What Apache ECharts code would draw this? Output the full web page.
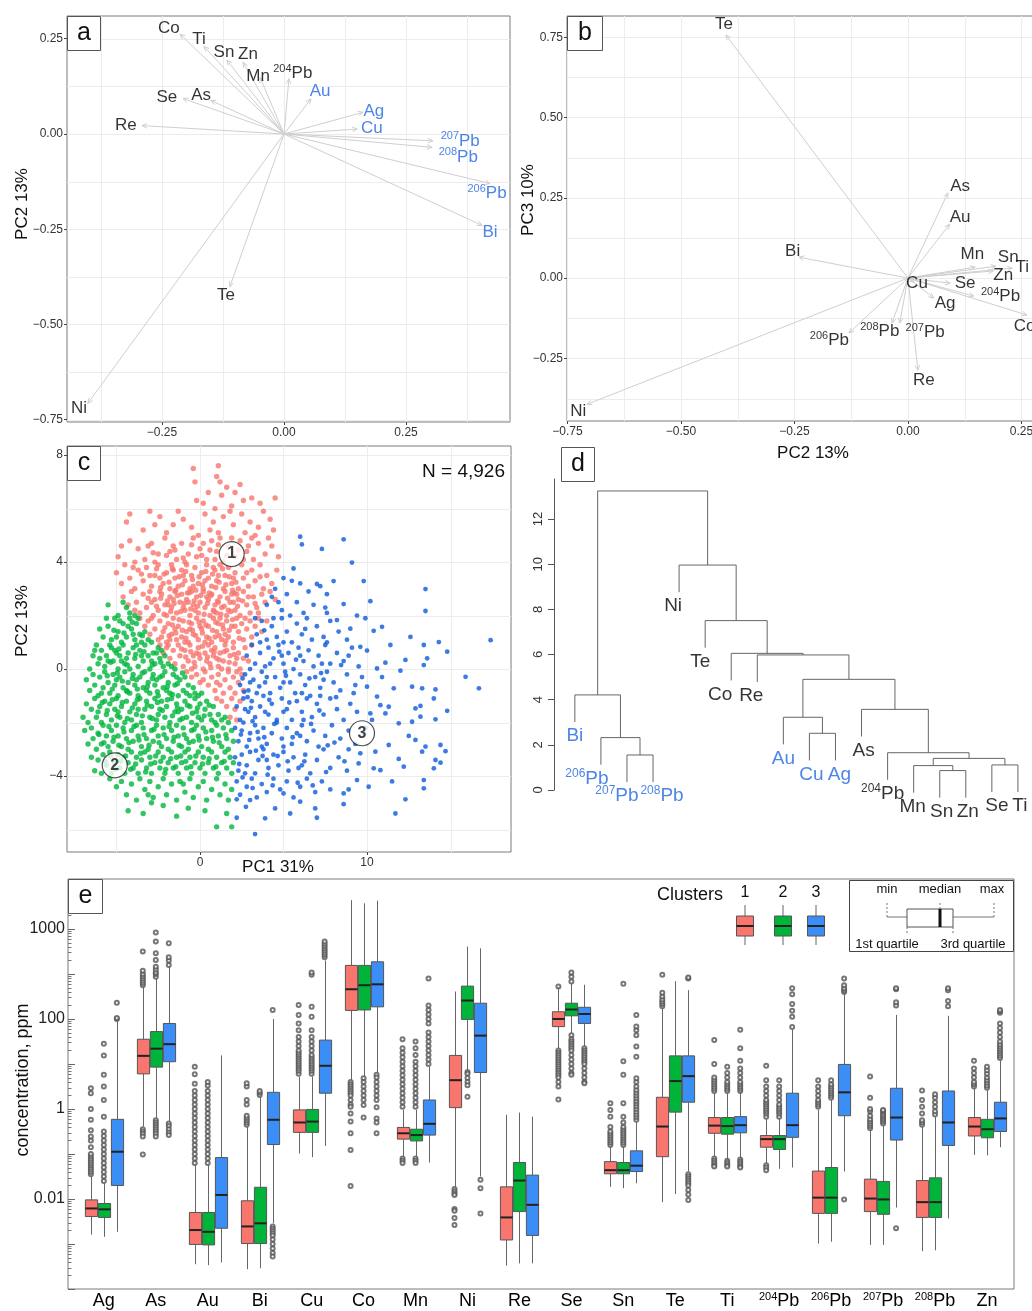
<!DOCTYPE html>
<html><head><meta charset="utf-8">
<script src="https://cdn.jsdelivr.net/npm/echarts@6/dist/echarts.min.js"></script>
<style>html,body{margin:0;padding:0;background:#fff}#c{width:1032px;height:1311px}</style>
</head><body><div id="c"></div>
<script>
const FONT = '"Liberation Sans", Arial, Helvetica, sans-serif';
const BLUE = '#1f67e0';
const C1 = '#f8766d', C2 = '#00b53c', C3 = '#0b5ad9';
const BOX1 = '#f8766d', BOX2 = '#00b43a', BOX3 = '#3a8ef6';

// ---------- Panels a, b: PCA loadings ----------
const vars = ['Ag','As','Au','Bi','Cu','Co','Mn','Ni','Re','Se','Sn','Te','Ti','204Pb','206Pb','207Pb','208Pb','Zn'];
const blueVars = ['Ag','Au','Bi','Cu','206Pb','207Pb','208Pb'];
const pc1 = [0.162,-0.150,0.055,0.406,0.150,-0.213,-0.049,-0.402,-0.291,-0.207,-0.117,-0.111,-0.164,0.010,0.422,0.305,0.303,-0.084];
const pc2 = [0.057,0.088,0.092,-0.240,0.013,0.262,0.148,-0.707,0.022,0.093,0.194,-0.401,0.230,0.145,-0.130,-0.018,-0.035,0.188];
const pc3 = [-0.062,0.265,0.168,0.065,-0.012,-0.115,0.034,-0.393,-0.287,-0.016,0.037,0.757,0.031,-0.056,-0.171,-0.140,-0.140,0.022];
const labA = [[0.184,0.060],[-0.170,0.102],[0.074,0.113],[0.422,-0.257],[0.180,0.016],[-0.236,0.278],[-0.053,0.152],[-0.420,-0.719],[-0.324,0.024],[-0.240,0.097],[-0.123,0.215],[-0.119,-0.423],[-0.174,0.249],[0.018,0.160],[0.416,-0.157],[0.361,-0.018],[0.357,-0.060],[-0.074,0.210]];
const labB = [[0.082,-0.078],[0.115,0.287],[0.115,0.190],[-0.254,0.084],[0.020,-0.016],[0.257,-0.150],[0.142,0.075],[-0.726,-0.414],[0.035,-0.318],[0.126,-0.016],[0.221,0.065],[-0.405,0.791],[0.252,0.034],[0.204,-0.056],[-0.173,-0.193],[0.038,-0.168],[-0.062,-0.165],[0.210,0.009]];
const tickAx = [-0.25,0,0.25], tickAy = [0.25,0,-0.25,-0.5,-0.75];
const gridAx = [-0.375,-0.25,-0.125,0,0.125,0.25,0.375], gridAy = [0.25,0.125,0,-0.125,-0.25,-0.375,-0.5,-0.625,-0.75];
const tickBx = [-0.75,-0.5,-0.25,0,0.25], tickBy = [0.75,0.5,0.25,0,-0.25];
const gridBx = [-0.75,-0.625,-0.5,-0.375,-0.25,-0.125,0,0.125,0.25], gridBy = [0.75,0.625,0.5,0.375,0.25,0.125,0,-0.125,-0.25,-0.375];

// ---------- Panel c: PC scores ----------
const tickCx = [0,10], tickCy = [8,4,0,-4];
const gridCx = [-5,0,5,10,15], gridCy = [8,6,4,2,0,-2,-4,-6];
const scores1 = [
-0.4,7.5, 1.1,7.6, 1.0,7.2, -0.3,7.0, 1.2,7.0,
0.5,6.6, 1.6,6.8, 2.1,6.6, 4.5,6.4, 3.1,6.4, 0.2,6.2, 2.6,6.3, 1.3,6.5, -0.2,6.3, 3.6,6.2, 1.9,6.1, 0.9,6.0, 2.4,6.9,
-4.2,5.8, -4.4,5.5, -2.4,5.7, -2.7,5.4, -1.6,5.4, -1.0,5.6, -0.5,5.3, 0.3,5.8, 0.8,5.5, 1.4,5.7, 2.0,5.4, 2.5,5.8, 3.0,5.5, 3.5,5.3, 4.2,5.6, -3.4,5.2, -2.0,5.1, -0.1,5.0, 1.1,5.1, 1.8,5.9, 2.7,5.1, 3.8,5.9, -1.3,5.9, 0.6,5.2, -3.0,5.9, 4.4,5.2, 3.3,5.0,
-4.7,4.6, -4.9,4.2, -4.2,4.8, -3.7,4.5, -3.3,4.1, -2.9,4.7, -2.5,4.3, -2.1,4.9, -1.8,4.4, -1.4,4.1, -1.1,4.7, -0.7,4.3, -0.4,4.9, 0.0,4.5, 0.4,4.1, 0.7,4.8, 1.0,4.4, 1.4,4.0, 1.7,4.6, 2.1,4.2, 2.4,4.8, 2.8,4.4, 3.2,4.1, 3.5,4.7, 3.9,4.3, 4.3,4.6, 4.7,4.2, -3.9,4.0, -2.7,4.0, -0.9,4.0, 0.9,4.1, 2.6,4.1, -1.6,4.6, 0.2,4.7, 1.9,4.9, 3.1,4.9, -0.2,4.2, 1.2,4.9, -3.1,4.6, 4.1,4.9, 2.9,4.6,
-5.0,3.6, -4.7,3.2, -4.5,3.9, -4.2,3.4, -3.9,3.0, -3.7,3.7, -3.4,3.3, -3.2,3.8, -2.9,3.1, -2.7,3.5, -2.5,3.9, -2.2,3.2, -2.0,3.6, -1.8,3.0, -1.7,3.9, -1.5,3.4, -1.3,3.1, -1.1,3.7, -0.9,3.3, -0.8,3.9, -0.6,3.0, -0.5,3.5, -0.3,3.8, -0.1,3.2, 0.1,3.6, 0.2,3.0, 0.4,3.9, 0.5,3.4, 0.7,3.1, 0.9,3.7, 1.0,3.3, 1.2,3.9, 1.4,3.0, 1.5,3.5, 1.7,3.8, 1.9,3.2, 2.1,3.6, 2.3,3.0, 2.5,3.9, 2.6,3.4, 2.9,3.1, 3.1,3.7, 3.3,3.3, 3.6,3.9, 3.8,3.0, 4.0,3.5, 4.3,3.2, 4.6,3.7, -4.0,3.8, -2.4,3.4, -1.0,3.5, 0.3,3.3, 1.1,3.5, 2.0,3.4, -0.4,3.1, 0.8,3.8, -1.6,3.7, 2.8,3.6, -3.0,3.5,
-4.6,2.7, -4.3,2.4, -4.1,2.9, -3.8,2.5, -3.6,2.1, -3.4,2.8, -3.2,2.3, -3.0,2.9, -2.8,2.0, -2.7,2.6, -2.5,2.2, -2.3,2.8, -2.1,2.4, -2.0,2.0, -1.8,2.7, -1.7,2.3, -1.5,2.9, -1.4,2.1, -1.2,2.5, -1.1,2.8, -0.9,2.2, -0.8,2.6, -0.6,2.0, -0.5,2.9, -0.4,2.4, -0.2,2.7, -0.1,2.1, 0.0,2.5, 0.2,2.9, 0.3,2.3, 0.5,2.6, 0.6,2.0, 0.7,2.8, 0.9,2.4, 1.0,2.1, 1.2,2.7, 1.3,2.3, 1.5,2.9, 1.6,2.0, 1.8,2.5, 1.9,2.8, 2.1,2.2, 2.3,2.6, 2.4,2.0, 2.6,2.9, 2.8,2.4, 3.0,2.1, 3.2,2.7, 3.4,2.3, 3.7,2.8, 3.9,2.5, 4.2,2.9, 4.5,2.6, -3.9,2.2, -2.9,2.5, -1.9,2.4, -1.0,2.3, -0.3,2.2, 0.4,2.7, 1.1,2.5, 1.7,2.2, 2.2,2.8, 2.9,2.7, -0.7,2.5, 0.8,2.2, -1.6,2.6, 3.5,2.1, -2.4,2.9, 2.0,2.5,
-3.6,1.9, -3.3,1.6, -3.0,1.3, -2.9,1.9, -2.7,1.5, -2.5,1.1, -2.4,1.8, -2.2,1.4, -2.0,1.0, -1.9,1.7, -1.7,1.3, -1.6,1.9, -1.4,1.1, -1.3,1.6, -1.1,1.2, -1.0,1.8, -0.8,1.4, -0.7,1.0, -0.5,1.7, -0.4,1.3, -0.2,1.9, -0.1,1.1, 0.1,1.5, 0.2,1.8, 0.4,1.2, 0.5,1.6, 0.7,1.0, 0.8,1.9, 1.0,1.4, 1.1,1.7, 1.3,1.1, 1.4,1.5, 1.6,1.8, 1.7,1.2, 1.9,1.6, 2.0,1.0, 2.2,1.9, 2.3,1.4, 2.5,1.7, 2.6,1.1, 2.8,1.5, 3.0,1.8, 3.1,1.2, 3.3,1.6, 3.5,1.9, 3.7,1.4, 4.0,1.8, -3.1,1.8, -2.3,1.2, -1.5,1.5, -0.6,1.5, 0.3,1.0, 0.9,1.2, 1.5,1.3, 2.1,1.6, 2.7,1.9, -0.9,1.0, 0.0,1.6, 1.2,1.9, -1.8,1.1,
-2.4,0.9, -2.2,0.6, -2.0,0.8, -1.8,0.4, -1.6,0.7, -1.5,0.2, -1.3,0.9, -1.2,0.5, -1.0,0.1, -0.9,0.7, -0.7,0.3, -0.6,0.9, -0.4,0.5, -0.3,0.1, -0.1,0.8, 0.0,0.4, 0.2,0.0, 0.3,0.6, 0.5,0.9, 0.6,0.2, 0.8,0.5, 0.9,0.8, 1.1,0.1, 1.2,0.6, 1.4,0.3, 1.5,0.9, 1.7,0.0, 1.8,0.5, 2.0,0.8, 2.1,0.2, 2.3,0.6, 2.4,0.0, 2.6,0.4, 2.7,0.8, 2.9,0.3, 3.1,0.9, -1.9,0.9, -0.5,0.0, 0.4,0.3, 1.0,0.4, 1.6,0.7, 2.2,0.4, -0.2,0.6, 0.7,0.7, 1.3,0.0,
-0.8,-0.1, -0.5,-0.3, -0.2,-0.2, 0.0,-0.5, 0.3,-0.1, 0.5,-0.6, 0.7,-0.3, 0.9,-0.8, 1.1,-0.2, 1.2,-0.6, 1.4,-0.9, 1.5,-0.4, 1.7,-0.1, 1.8,-0.7, 2.0,-0.3, 2.1,-0.9, 2.3,-0.5, 2.5,-0.2, 2.6,-0.8, 1.0,-0.5, 0.2,-0.4, 2.2,-0.1,
1.0,-1.1, 1.3,-1.2, 1.6,-1.4, 1.9,-1.1, 2.1,-1.5, 2.4,-1.2, 1.8,-1.8, 2.2,-1.9,
-2.6,3.75, -2.35,3.05, -2.15,3.55, -1.85,3.25, -1.65,3.75, -1.45,2.95, -1.25,3.45, -1.05,3.15, -0.85,3.65, -0.65,2.85, -0.45,3.35, -0.25,2.95, -0.05,3.45, 0.15,3.15, 0.35,3.65, 0.55,2.85, 0.75,3.55, 0.95,3.05, 1.15,3.25, 1.35,3.75, 1.55,3.15, 1.75,3.45, 1.95,2.95, 2.15,3.25,
-2.6,2.35, -2.35,2.65, -2.15,2.05, -1.95,2.55, -1.75,2.15, -1.55,2.45, -1.35,2.75, -1.15,2.15, -0.95,2.45, -0.75,2.85, -0.55,2.25, -0.35,2.55, -0.15,2.35, 0.05,2.75, 0.25,2.05, 0.45,2.45, 0.65,2.75, 0.85,2.15, 1.05,2.55, 1.25,2.05, 1.45,2.35, 1.65,2.65, 1.85,2.15, 2.05,2.85, 2.25,2.35, 2.55,2.55,
-2.1,1.55, -1.85,1.25, -1.65,1.65, -1.45,1.35, -1.25,1.85, -1.05,1.45, -0.85,1.15, -0.65,1.75, -0.45,1.45, -0.25,1.25, -0.05,1.75, 0.15,1.35, 0.35,1.65, 0.55,1.15, 0.75,1.45, 0.95,1.75, 1.15,1.25, 1.35,1.65, 1.55,1.05, 1.75,1.45, 1.95,1.85, 2.35,1.15,
-1.1,0.75, -0.85,0.45, -0.55,0.65, -0.35,0.25, -0.05,0.55, 0.15,0.85, 0.45,0.45, 0.65,0.05, 0.85,0.65, 1.15,0.35, 1.45,0.65, 1.75,0.25, 2.05,0.55,
-2.0,4.25, -1.5,4.45, -1.0,4.15, -0.5,4.65, 0.1,4.25, 0.6,4.45, 1.1,4.65, 1.6,4.25, 2.3,4.45, -2.8,4.35, -3.5,3.55, -3.1,2.65, 3.3,2.45, 3.6,3.45
];
const scores2 = [
-5.5,2.4, -4.6,2.5, -4.2,2.1, -4.9,2.0, -4.4,2.3, -3.9,2.0,
-5.8,1.2, -5.5,1.6, -5.3,1.1, -5.1,1.9, -4.9,1.4, -4.7,1.0, -4.6,1.7, -4.4,1.2, -4.2,1.9, -4.1,1.5, -3.9,1.1, -3.8,1.7, -3.6,1.3, -3.5,1.0, -3.3,1.4, -3.1,1.1, -2.9,1.0, -5.6,1.9, -4.8,1.8, -4.3,1.6, -3.7,1.9, -5.0,1.2, -4.0,1.3, -6.0,1.5,
-6.6,0.0, -6.4,0.5, -6.2,0.9, -6.1,0.2, -5.9,0.7, -5.7,0.1, -5.6,0.5, -5.4,0.9, -5.2,0.3, -5.1,0.7, -4.9,0.0, -4.8,0.5, -4.6,0.9, -4.5,0.2, -4.3,0.6, -4.2,0.0, -4.0,0.8, -3.9,0.4, -3.7,0.1, -3.6,0.7, -3.4,0.3, -3.3,0.9, -3.1,0.5, -3.0,0.0, -2.8,0.6, -2.7,0.2, -2.5,0.8, -2.4,0.4, -2.2,0.1, -2.1,0.5, -1.9,0.2, -1.7,0.1, -1.5,0.0, -6.3,0.7, -5.5,0.3, -5.0,0.6, -4.4,0.4, -3.8,0.9, -3.5,0.5, -2.9,0.3, -2.6,0.6, -4.7,0.3, -5.3,0.8, -2.3,0.7, -6.0,0.4,
-6.8,-0.4, -6.6,-0.8, -6.4,-0.2, -6.3,-0.6, -6.1,-1.0, -6.0,-0.3, -5.8,-0.7, -5.7,-0.1, -5.5,-0.5, -5.4,-0.9, -5.2,-0.2, -5.1,-0.6, -4.9,-1.0, -4.8,-0.3, -4.6,-0.7, -4.5,-0.1, -4.3,-0.5, -4.2,-0.9, -4.0,-0.2, -3.9,-0.6, -3.7,-1.0, -3.6,-0.3, -3.4,-0.7, -3.3,-0.1, -3.1,-0.5, -3.0,-0.9, -2.8,-0.2, -2.7,-0.6, -2.5,-1.0, -2.4,-0.3, -2.2,-0.7, -2.1,-0.1, -1.9,-0.5, -1.8,-0.9, -1.6,-0.2, -1.5,-0.6, -1.3,-1.0, -1.2,-0.4, -1.0,-0.8, -0.9,-0.3, -0.7,-0.6, -0.6,-1.0, -0.4,-0.7, -0.3,-0.9, -0.1,-1.0, 0.1,-0.9, -5.9,-0.9, -5.0,-0.4, -4.4,-0.8, -3.8,-0.4, -3.2,-0.8, -2.6,-0.4, -2.0,-0.8, -1.4,-0.3, -0.8,-0.9,
-7.0,-1.8, -6.8,-1.3, -6.7,-2.0, -6.5,-1.5, -6.3,-1.1, -6.2,-1.8, -6.0,-1.4, -5.9,-2.0, -5.7,-1.2, -5.6,-1.7, -5.4,-1.3, -5.3,-1.9, -5.1,-1.5, -5.0,-1.1, -4.8,-1.8, -4.7,-1.4, -4.5,-2.0, -4.4,-1.2, -4.2,-1.6, -4.1,-1.9, -3.9,-1.3, -3.8,-1.7, -3.6,-1.1, -3.5,-2.0, -3.3,-1.5, -3.2,-1.2, -3.0,-1.8, -2.9,-1.4, -2.7,-1.1, -2.6,-1.9, -2.4,-1.5, -2.3,-1.2, -2.1,-1.8, -2.0,-1.4, -1.8,-2.0, -1.7,-1.1, -1.5,-1.6, -1.4,-1.3, -1.2,-1.9, -1.1,-1.5, -0.9,-1.2, -0.8,-1.8, -0.6,-1.4, -0.5,-2.0, -0.3,-1.1, -0.2,-1.6, 0.0,-1.3, 0.1,-1.9, 0.3,-1.5, 0.4,-1.2, 0.6,-1.7, 0.8,-1.4, 0.9,-2.0, 1.1,-1.7, 1.3,-1.9, 1.5,-1.8, 1.7,-2.0, -6.1,-1.6, -4.9,-1.6, -3.7,-1.5, -2.5,-1.7, -1.3,-1.6, -0.1,-1.8, 0.7,-1.9,
-6.9,-2.3, -6.7,-2.8, -6.5,-2.2, -6.4,-2.6, -6.2,-3.0, -6.1,-2.4, -5.9,-2.8, -5.8,-2.1, -5.6,-2.5, -5.5,-2.9, -5.3,-2.3, -5.2,-2.7, -5.0,-2.1, -4.9,-2.5, -4.7,-2.9, -4.6,-2.2, -4.4,-2.6, -4.3,-3.0, -4.1,-2.3, -4.0,-2.7, -3.8,-2.1, -3.7,-2.5, -3.5,-2.9, -3.4,-2.2, -3.2,-2.6, -3.1,-3.0, -2.9,-2.3, -2.8,-2.7, -2.6,-2.1, -2.5,-2.5, -2.3,-2.9, -2.2,-2.2, -2.0,-2.6, -1.9,-3.0, -1.7,-2.3, -1.6,-2.7, -1.4,-2.1, -1.3,-2.5, -1.1,-2.9, -1.0,-2.2, -0.8,-2.6, -0.7,-3.0, -0.5,-2.3, -0.4,-2.7, -0.2,-2.1, -0.1,-2.5, 0.1,-2.9, 0.2,-2.2, 0.4,-2.6, 0.5,-3.0, 0.7,-2.3, 0.8,-2.7, 1.0,-2.1, 1.1,-2.5, 1.3,-2.9, 1.4,-2.2, 1.6,-2.6, 1.7,-3.0, 1.9,-2.3, 2.0,-2.7,
-6.5,-3.3, -6.3,-3.8, -6.1,-3.4, -5.9,-3.9, -5.8,-3.2, -5.6,-3.6, -5.4,-3.1, -5.3,-3.9, -5.1,-3.5, -4.9,-3.2, -4.8,-3.7, -4.6,-3.3, -4.5,-3.9, -4.3,-3.5, -4.1,-3.1, -4.0,-3.7, -3.8,-3.3, -3.7,-3.9, -3.5,-3.4, -3.3,-3.1, -3.2,-3.7, -3.0,-3.3, -2.9,-3.9, -2.7,-3.5, -2.5,-3.1, -2.4,-3.7, -2.2,-3.3, -2.1,-3.9, -1.9,-3.5, -1.7,-3.1, -1.6,-3.7, -1.4,-3.3, -1.3,-3.9, -1.1,-3.5, -0.9,-3.1, -0.8,-3.7, -0.6,-3.3, -0.5,-3.9, -0.3,-3.5, -0.1,-3.1, 0.0,-3.7, 0.2,-3.3, 0.3,-3.9, 0.5,-3.5, 0.7,-3.1, 0.8,-3.7, 1.0,-3.3, 1.1,-3.9, 1.3,-3.5, 1.5,-3.1, 1.6,-3.7, 1.8,-3.3, 1.9,-3.9, 2.0,-3.5,
-5.4,-4.1, -5.0,-4.4, -4.7,-4.2, -4.4,-4.7, -4.1,-4.3, -3.8,-4.9, -3.6,-4.1, -3.3,-4.5, -3.0,-4.2, -2.8,-4.8, -2.5,-4.4, -2.2,-4.1, -2.0,-4.7, -1.7,-4.3, -1.4,-4.9, -1.2,-4.2, -0.9,-4.6, -0.6,-4.1, -0.4,-4.8, -0.1,-4.4, 0.2,-4.2, 0.4,-4.9, 0.7,-4.5, 1.0,-4.1, 1.2,-4.7, 1.5,-4.3, 1.7,-4.9, 1.9,-4.5, -3.1,-4.7, -1.0,-4.3,
-4.3,-5.3, -3.4,-5.4, -2.2,-5.1, -1.4,-5.5, -0.7,-5.2, 0.3,-5.3, 1.0,-5.9, 1.9,-5.9, 1.6,-5.4, -2.9,-5.0,
-5.55,-0.25, -5.25,-0.75, -4.95,-0.15, -4.65,-0.45, -4.35,-0.85, -4.05,-0.35, -3.75,-0.75, -3.45,-0.15, -3.15,-0.65, -2.85,-0.35, -2.55,-0.85, -2.25,-0.25, -1.95,-0.65, -1.65,-0.95, -1.35,-0.55, -1.05,-0.15,
-5.85,-1.25, -5.55,-1.55, -5.25,-1.15, -4.95,-1.75, -4.65,-1.25, -4.35,-1.85, -4.05,-1.45, -3.75,-1.15, -3.45,-1.75, -3.15,-1.35, -2.85,-1.85, -2.55,-1.25, -2.25,-1.55, -1.95,-1.15, -1.65,-1.75, -1.35,-1.45, -1.05,-1.85, -0.75,-1.35, -0.45,-1.65, -0.15,-1.45, 0.25,-1.75, 0.55,-1.35,
-6.05,-2.45, -5.75,-2.75, -5.45,-2.15, -5.15,-2.55, -4.85,-2.85, -4.55,-2.35, -4.25,-2.75, -3.95,-2.15, -3.65,-2.65, -3.35,-2.45, -3.05,-2.85, -2.75,-2.25, -2.45,-2.75, -2.15,-2.45, -1.85,-2.15, -1.55,-2.55, -1.25,-2.85, -0.95,-2.45, -0.65,-2.75, -0.35,-2.25, -0.05,-2.65, 0.35,-2.35, 0.75,-2.55, 1.15,-2.75, 1.55,-2.45,
-5.65,-3.45, -5.35,-3.25, -5.05,-3.75, -4.75,-3.45, -4.45,-3.25, -4.15,-3.75, -3.85,-3.55, -3.55,-3.15, -3.25,-3.85, -2.95,-3.55, -2.65,-3.25, -2.35,-3.45, -2.05,-3.75, -1.75,-3.35, -1.45,-3.65, -1.15,-3.25, -0.85,-3.45, -0.55,-3.65, -0.25,-3.25, 0.15,-3.55, 0.55,-3.35, 0.95,-3.65, 1.45,-3.45,
-5.35,0.25, -4.85,0.75, -4.35,0.15, -3.85,0.55, -3.35,0.65, -2.85,0.15, -2.35,0.25, -4.55,1.35, -4.05,1.75, -3.45,1.25, -5.15,1.45
];
const scores3 = [
4.0,2.4, 4.5,3.0, 4.9,2.2, 5.2,2.8, 5.5,3.3, 5.8,2.5, 6.2,2.1, 6.5,2.9, 6.8,2.4, 7.2,3.1, 4.3,2.7, 5.0,3.4, 6.0,3.2, 5.4,2.0, 7.5,2.3, 4.7,2.5,
3.4,1.3, 3.7,1.8, 4.0,1.1, 4.3,1.6, 4.6,1.2, 4.9,1.9, 5.2,1.4, 5.5,1.0, 5.8,1.7, 6.1,1.3, 6.4,1.9, 6.7,1.1, 7.0,1.6, 7.4,1.2, 7.8,1.8, 8.3,1.4, 8.8,1.1, 3.6,1.0, 5.0,1.0, 6.3,1.5, 7.6,1.0, 4.4,1.9, 3.3,1.9,
2.8,0.5, 3.1,0.9, 3.3,0.2, 3.6,0.6, 3.9,0.1, 4.1,0.8, 4.4,0.4, 4.7,0.9, 5.0,0.2, 5.3,0.6, 5.6,0.0, 5.9,0.8, 6.2,0.3, 6.5,0.7, 6.8,0.1, 7.1,0.5, 7.5,0.9, 7.8,0.2, 8.2,0.6, 8.6,0.3, 9.1,0.8, 9.5,0.1, 3.0,0.0, 4.9,0.5, 6.0,0.5, 7.3,0.2, 8.9,0.5, 4.2,0.2,
2.4,-0.6, 2.7,-0.2, 2.9,-0.8, 3.2,-0.4, 3.4,-0.9, 3.7,-0.1, 3.9,-0.5, 4.2,-0.9, 4.5,-0.3, 4.8,-0.7, 5.1,-0.1, 5.4,-0.5, 5.7,-0.9, 6.0,-0.2, 6.3,-0.6, 6.6,-1.0, 6.9,-0.3, 7.2,-0.7, 7.6,-0.1, 8.0,-0.5, 8.4,-0.8, 8.8,-0.2, 9.3,-0.6, 9.7,-0.3, 3.0,-0.5, 4.0,-0.3, 5.0,-0.5, 6.1,-0.9, 7.4,-0.4,
2.2,-1.4, 2.4,-1.9, 2.6,-1.1, 2.9,-1.6, 3.1,-1.2, 3.3,-1.8, 3.6,-1.4, 3.8,-1.0, 4.1,-1.7, 4.3,-1.3, 4.6,-1.9, 4.9,-1.1, 5.2,-1.5, 5.5,-1.9, 5.8,-1.2, 6.1,-1.6, 6.4,-1.1, 6.7,-1.8, 7.0,-1.3, 7.4,-1.7, 7.8,-1.1, 8.2,-1.5, 8.6,-1.9, 9.0,-1.3, 9.4,-1.6, 2.7,-1.5, 3.9,-1.6, 5.0,-1.6, 6.2,-1.9, 7.2,-1.0,
2.1,-2.2, 2.3,-2.7, 2.5,-2.3, 2.8,-2.9, 3.0,-2.4, 3.3,-2.1, 3.5,-2.6, 3.8,-2.2, 4.0,-2.8, 4.3,-2.4, 4.6,-2.0, 4.9,-2.6, 5.2,-2.2, 5.5,-2.8, 5.8,-2.4, 6.1,-2.1, 6.4,-2.7, 6.8,-2.3, 7.1,-2.9, 7.5,-2.5, 7.9,-2.1, 8.4,-2.6, 8.9,-2.3, 9.3,-2.8, 9.8,-2.4, 2.6,-2.0, 3.7,-2.9, 5.0,-2.9, 6.0,-2.5,
2.1,-3.3, 2.3,-3.8, 2.5,-3.2, 2.8,-3.6, 3.0,-3.1, 3.3,-3.9, 3.5,-3.4, 3.8,-3.0, 4.1,-3.7, 4.4,-3.2, 4.7,-3.6, 5.0,-3.1, 5.3,-3.8, 5.6,-3.3, 5.9,-3.7, 6.3,-3.2, 6.6,-3.9, 7.0,-3.4, 7.4,-3.0, 7.8,-3.7, 8.3,-3.3, 8.8,-3.8, 2.7,-3.9, 4.0,-3.4, 6.1,-3.6,
2.2,-4.2, 2.4,-4.7, 2.8,-4.4, 3.1,-4.1, 3.4,-4.8, 3.7,-4.3, 4.0,-4.6, 4.4,-4.1, 4.8,-4.5, 5.2,-4.2, 5.6,-4.8, 6.0,-4.4, 6.4,-4.1, 6.9,-4.6, 7.3,-4.2, 7.8,-4.5, 3.0,-4.9, 5.0,-4.65, 6.0,-4.96,
17.4,1.08, 16.7,-0.72, 15.9,-0.29, 14.8,0.65, 14.3,1.01, 13.5,2.99, 13.5,2.17, 13.4,0.9, 13.6,0.4, 13.4,0.15, 12.3,0.34, 12.7,-0.66, 13.3,-0.72, 14.1,-0.76, 14.0,-1.1, 14.8,-1.56, 14.1,-1.88, 13.2,-1.38, 13.2,-1.78, 12.9,-1.47, 12.7,-1.97, 12.5,-2.5, 12.9,-2.65, 13.3,-3.09, 13.5,-2.9, 14.4,-2.84, 14.7,-3.07, 14.4,-3.5, 14.1,-3.4, 14.0,-3.71, 13.4,-4.15, 13.4,-4.46, 12.3,-4.87, 11.7,-5.4, 12.2,-3.65, 11.9,-3.36, 11.3,-2.84, 11.9,-2.03, 11.1,-1.66, 11.3,-1.41, 10.8,-1.35, 11.6,-0.72, 12.0,-0.06, 11.1,0.24, 10.9,1.58, 10.4,1.43, 10.2,2.54, 9.8,3.29, 9.1,3.98, 8.6,4.85, 7.3,4.49, 6.1,4.66, 6.0,4.95, 5.6,3.76, 8.0,3.29, 7.0,3.18, 7.6,2.8, 8.6,2.43, 7.6,2.1, 8.2,1.83, 9.0,1.51, 9.6,0.83, 10.0,0.69, 10.6,0.02, 10.0,-0.66, 10.6,-1.03, 10.2,-1.66, 10.3,-1.9, 10.5,-3.09, 10.4,-3.71, 10.8,-3.78, 9.6,-3.15, 9.5,-3.53, 8.6,-5.05, 8.6,-4.65, 9.4,-4.15, 8.9,-4.5, 7.0,-5.56, 6.9,-5.21, 4.5,-5.21, 3.9,-5.58, 3.3,-6.17, 2.2,-5.56, 2.75,-5.15, 2.2,-4.87, 5.4,-5.4,
9.2,-0.9, 9.9,-2.2, 10.9,-0.3, 11.4,0.9, 9.4,2.0, 8.9,-3.0, 10.1,-4.4, 11.5,-4.2, 12.6,1.2, 9.9,1.9,
2.55,-0.35, 2.85,-1.05, 3.15,-1.95, 3.45,-2.35, 3.75,-3.25, 3.15,-4.45, 2.55,-4.05, 2.95,-2.65, 3.55,-0.65, 4.15,-1.15, 4.45,-2.05, 4.65,-3.25, 4.35,-4.35, 5.25,-3.45, 5.55,-2.55, 5.35,-1.25, 5.15,-0.25, 5.75,0.35, 4.75,0.65, 3.85,1.45, 6.55,-0.35, 6.65,-2.05, 6.25,-3.45, 7.15,-1.55, 7.65,-2.85, 7.25,-0.15, 8.15,-1.05, 8.45,0.15, 3.35,-3.05, 2.35,-3.55, 2.45,-2.45, 2.65,-0.85, 3.05,-1.45, 3.85,-2.55, 4.05,-3.95, 5.85,-4.25, 6.75,-4.35, 7.55,-3.85, 8.05,-2.75, 8.65,-3.45
];
const clusterLabelPos = [[1.9,4.3],[-5.1,-3.6],[9.7,-2.4]];
const clusterNames = ['1','2','3'];

// ---------- Panel d: dendrogram ----------
const dendroLeaves = ['Bi','206Pb','207Pb','208Pb','Ni','Te','Co','Re','Au','Cu','Ag','As','204Pb','Mn','Sn','Zn','Se','Ti'];
const dendroMerge = [['207Pb','208Pb'],['206Pb',1],['Bi',2],['Sn','Zn'],['Mn',4],['Se','Ti'],[5,6],['204Pb',7],['As',8],['Cu','Ag'],['Au',10],[11,9],['Re',12],['Co',13],['Te',14],['Ni',15],[3,16]];
const dendroHeight = [1.55,2.32,4.21,0.86,1.08,1.11,1.40,1.65,3.57,2.51,3.22,4.90,5.98,6.05,7.50,9.96,13.24];
const dendroHang = 1.2;
const tickD = [0,2,4,6,8,10,12];
// label nudges (px) so neighbouring leaf labels do not collide
const dendroLabelDx = [0,-14,-10,9,-6,-5,-11,-6,0,2,4,2,-5,-1,2,2,5,2];

// ---------- Panel e: boxplots (log10 ppm) ----------
const elements = ['Ag','As','Au','Bi','Cu','Co','Mn','Ni','Re','Se','Sn','Te','Ti','204Pb','206Pb','207Pb','208Pb','Zn'];
const eTickVals = [-2,0,2,4];
const eTickLabels = ['0.01','1','100','1000'];
// [lower whisker, Q1, median, Q3, upper whisker]
const box1 = [[-2.79,-2.39,-2.21,-2.02,-1.50],[-0.39,0.78,1.18,1.55,2.72],[-3.45,-3.01,-2.69,-2.30,-1.24],[-3.56,-2.99,-2.61,-2.04,-0.39],[-0.99,-0.52,-0.30,-0.02,0.72],[0.64,2.19,2.66,3.19,4.64],[-1.06,-0.67,-0.54,-0.41,-0.02],[-1.73,0.03,0.64,1.19,2.61],[-3.48,-2.91,-2.41,-1.73,-0.13],[1.35,1.83,2.00,2.16,2.70],[-1.73,-1.44,-1.36,-1.17,-0.84],[-2.07,-1.06,-0.39,0.26,2.24],[-1.07,-0.54,-0.37,-0.19,0.35],[-1.21,-0.85,-0.67,-0.59,-0.21],[-2.99,-2.32,-1.97,-1.38,-0.02],[-3.02,-2.28,-1.99,-1.56,-0.47],[-3.16,-2.41,-2.07,-1.59,-0.39],[-1.02,-0.60,-0.39,-0.19,0.46]];
const box2 = [[-2.84,-2.41,-2.23,-2.10,-1.65],[-0.21,0.93,1.34,1.72,2.90],[-3.47,-3.02,-2.73,-2.30,-1.24],[-3.54,-2.99,-2.54,-1.74,0.27],[-1.07,-0.52,-0.28,-0.01,0.72],[0.72,2.20,2.75,3.19,4.57],[-1.07,-0.71,-0.58,-0.45,-0.02],[0.87,1.99,2.41,2.73,3.61],[-3.43,-2.28,-1.59,-1.19,-0.08],[1.68,2.07,2.21,2.35,2.79],[-1.76,-1.44,-1.36,-1.19,-0.84],[-1.89,-0.07,0.62,1.18,2.84],[-1.13,-0.56,-0.38,-0.19,0.35],[-1.33,-0.90,-0.67,-0.59,-0.21],[-2.95,-2.32,-1.97,-1.30,0.20],[-3.02,-2.34,-2.01,-1.61,-0.36],[-3.14,-2.41,-2.07,-1.53,-0.17],[-1.03,-0.64,-0.45,-0.23,0.42]];
const box3 = [[-2.73,-1.70,-0.95,-0.23,1.95],[-0.28,1.05,1.44,1.90,3.16],[-3.41,-2.65,-1.91,-1.08,1.19],[-2.54,-0.79,-0.24,0.37,2.00],[-0.82,0.35,0.96,1.53,3.30],[0.79,2.27,2.77,3.27,4.63],[-1.19,-0.58,-0.33,0.20,0.94],[-1.50,0.81,1.63,2.35,3.57],[-3.43,-2.81,-2.13,-1.47,-0.17],[1.39,1.90,2.11,2.26,2.76],[-1.65,-1.39,-1.26,-0.93,-0.28],[-1.39,0.15,0.73,1.18,2.64],[-1.10,-0.53,-0.36,-0.17,0.37],[-1.30,-0.63,-0.36,0.35,1.76],[-1.39,-0.15,0.37,0.99,2.57],[-2.19,-0.69,-0.19,0.46,2.09],[-2.43,-0.81,-0.30,0.40,2.07],[-0.85,-0.50,-0.21,0.15,1.09]];
const outl1 = [
[-1.45,-1.4,-1.35,-1.3,-1.25,-1.2,-1.15,-1.1,-1.05,-1.0,-0.85,-0.7,-0.61,-0.47,-0.24,0.0,0.35,0.46],
[2.75,2.8,2.85,2.9,2.95,3.0,3.07,3.5,-0.45,-0.5,-0.55,-0.61,-1.01],
[-1.2,-1.1,-1.0,-0.9,-0.8,-0.7,-0.6,-0.5,-0.4,-0.3,-0.2,-0.1,0.0,0.1,0.2,0.3,0.4,0.56,0.77,0.94],
[-0.35,-0.3,-0.25,-0.2,-0.15,0.1,0.2,0.5,0.57],
[0.78,0.85,0.9,0.95,1.0,1.05,1.1,1.15,1.2,1.25,1.3,1.4,1.5,1.6,1.75,1.9,2.09,2.31],
[0.6,0.55,0.5,0.45,0.4,0.35,0.3,0.2,0.1,0.05,-0.1,-0.28,-0.54,-0.91,-1.71],
[0.05,0.15,0.25,0.35,0.45,0.55,0.65,0.75,0.85,0.95,1.05,1.15,1.25,1.35,1.55,-1.1,-1.15,-1.2],
[-1.78,-1.83,-1.88,-1.91,-2.22,-2.26,-2.42,-2.58],
[],
[1.3,1.25,1.2,1.15,1.1,1.05,1.0,0.95,0.9,0.85,0.8,0.75,0.7,0.6,0.5,0.21,2.72],
[-0.8,-0.75,-0.7,-0.65,-0.6,-0.55,-0.5,-0.4,-0.17,-0.02,0.13],
[2.28,2.33,2.38,2.43,2.5,2.58,2.98],
[0.4,0.45,0.5,0.55,0.6,0.65,0.7,1.0,1.53,-1.1,-1.15,-1.2,-1.25,-1.28],
[-0.17,-0.1,-0.05,0.0,0.05,0.1,0.15,0.2,0.3,0.4,0.5,0.64,0.96,-1.25,-1.3,-1.36],
[0.05,0.1,0.15,0.2,0.3,0.4,0.5,0.64],
[-0.43,-0.38,-0.33,-0.28,-0.23,-0.15,-0.05,0.0,0.25,0.72],
[-0.35,-0.3,-0.25,-0.1,0.05,0.2,0.41],
[0.5,0.55,0.6,0.7,0.8,0.9,1.07]];
const outl2 = [
[-1.6,-1.5,-1.4,-1.3,-1.2,-1.1,-1.0,-0.9,-0.8,-0.7,-0.6,-0.5,-0.17,0.2,0.5,0.76,1.19,1.45],
[2.94,3.0,3.03,3.1,3.16,3.31,3.46,3.72,3.92,-0.25,-0.3,-0.35,-0.4,-0.45,-0.5,-0.55,-0.61],
[-1.2,-1.1,-1.0,-0.9,-0.8,-0.7,-0.6,-0.5,-0.4,-0.3,-0.2,-0.1,0.0,0.1,0.2,0.3,0.4,0.52,0.6],
[0.31,0.36,0.4],
[0.78,0.85,0.9,0.95,1.0,1.05,1.1,1.15,1.2,1.3,1.4,1.5,1.6,1.75,2.05,2.27,2.98,3.03],
[0.68,0.6,0.5,0.4,0.3,0.2,0.09,-0.19],
[0.05,0.15,0.25,0.35,0.45,0.55,0.65,0.75,0.85,0.95,1.05,1.2,1.35,1.5,-1.1,-1.15,-1.2],
[0.82,0.78,0.69,0.6,0.53,0.27],
[],
[2.83,2.94,3.03,1.64,1.55,1.5,1.45,1.4,1.35,1.3,1.2,1.1,1.0,0.9,0.8,0.76],
[-0.8,-0.75,-0.7,-0.65,-0.6,-0.55,-0.5,-0.45,-0.4,-0.3,-0.17,0.13,0.76,1.06,2.78],
[],
[0.4,0.45,0.5,0.55,0.6,0.7,0.8,0.94,-1.15,-1.2,-1.25,-1.28],
[-0.17,-0.1,-0.05,0.0,0.05,0.1,0.2,0.3,0.4,0.5,0.64],
[0.25,0.3,0.35,0.4,0.45,0.5,0.55,0.64],
[-0.32,-0.28,-0.24,-0.2,-0.16,-0.12,-0.08,-0.04,-0.02],
[-0.12,-0.05,0.05,0.15,0.25,0.33],
[0.47,0.52,0.58,0.64,0.7,0.78,0.86,0.94]];
const outl3 = [
[2.0,2.02,2.36],
[3.2,3.3,3.37,3.68,-0.32,-0.38,-0.45,-0.52,-0.58],
[],
[2.2,-2.61,-2.66,-2.71,-2.76,-2.81,-2.9,-3.0,-3.1,-3.2,-3.28],
[3.37,3.42,3.47,3.52,3.57,3.62,3.67,3.72],
[0.76,0.7,0.6,0.5,0.4,0.3,0.2,0.04,-0.21,-0.3,-0.54],
[1.0,1.1,1.2,1.3,1.4,1.5,1.6,1.7,1.9,2.0,2.1,2.2,2.3,2.9],
[-1.57,-1.76,-2.32],
[],
[1.35,1.3,1.25,1.2,1.15,1.1,1.05,1.0,0.9,0.8,0.7,0.6,0.57],
[-0.24,-0.18,-0.12,-0.06,0.0,0.06,0.12,0.18,0.24,0.3,0.36,0.42,0.5,0.6,0.68,1.16,1.39,1.64,1.75,1.83,2.09],
[2.9,2.92,-1.45,-1.5,-1.55,-1.6,-1.65,-1.7,-1.8,-1.9,-2.02],
[0.4,0.45,0.5,0.55,0.6,0.7,0.8,0.9,1.07,1.35,1.76,-1.12,-1.17,-1.22,-1.27,-1.3],
[1.82,2.05,2.18,2.33,2.55,2.68],
[2.6,2.64,2.68,2.75,2.9,-2.01],
[2.3,2.37,2.66,2.68,-2.65],
[2.28,2.4,2.64,2.68],
[1.13,1.18,1.23,1.28,1.33,1.38,1.43,1.5,1.6,1.7,1.8,1.9,2.14,2.17,2.2]];

// ---------- helpers ----------
function pairs(a){ const r=[]; for(let i=0;i<a.length;i+=2) r.push([a[i],a[i+1]]); return r; }
function fmtNum(d){ return v => (v<0?'\u2212':'') + Math.abs(v).toFixed(d); }
function richSet(big, small){
  return {
    nk:{fontSize:big,color:'#000',fontFamily:FONT,lineHeight:big+3},
    sk:{fontSize:small,color:'#000',fontFamily:FONT,lineHeight:small+3,verticalAlign:'top'},
    nb:{fontSize:big,color:BLUE,fontFamily:FONT,lineHeight:big+3},
    sb:{fontSize:small,color:BLUE,fontFamily:FONT,lineHeight:small+3,verticalAlign:'top'}
  };
}
const RICH_AB = richSet(17, 11), RICH_D = richSet(19, 12), RICH_E = richSet(18, 11);
function rt(name, blue){ const m=/^(\d+)(.+)$/.exec(name); const k=blue?'b':'k'; return m?('{s'+k+'|'+m[1]+'}{n'+k+'|'+m[2]+'}'):('{n'+k+'|'+name+'}'); }

function gridLineSeries(gi, xs, ys, color){
  return {type:'custom', xAxisIndex:gi, yAxisIndex:gi, silent:true, z:1, data:[[0,0]],
    renderItem(params, api){
      const cs = params.coordSys; const ch = [];
      xs.forEach(v=>{ const p=api.coord([v,0]); const x=Math.round(p[0])+0.5; ch.push({type:'line',shape:{x1:x,y1:cs.y,x2:x,y2:cs.y+cs.height},style:{stroke:color,lineWidth:1}}); });
      ys.forEach(v=>{ const p=api.coord([0,v]); const y=Math.round(p[1])+0.5; ch.push({type:'line',shape:{x1:cs.x,y1:y,x2:cs.x+cs.width,y2:y},style:{stroke:color,lineWidth:1}}); });
      return {type:'group', children:ch};
    }};
}
function arrowSeries(gi, xs, ys){
  return {type:'custom', xAxisIndex:gi, yAxisIndex:gi, silent:true, z:3,
    data: xs.map((x,i)=>[x, ys[i]]),
    renderItem(params, api){
      const o=api.coord([0,0]); const p=api.coord([api.value(0), api.value(1)]);
      const dx=p[0]-o[0], dy=p[1]-o[1]; const L=Math.hypot(dx,dy)||1; const ux=dx/L, uy=dy/L;
      const a=5, w=2.3;
      const b1=[p[0]-ux*a-uy*w, p[1]-uy*a+ux*w], b2=[p[0]-ux*a+uy*w, p[1]-uy*a-ux*w];
      return {type:'group', children:[
        {type:'line', shape:{x1:o[0],y1:o[1],x2:p[0],y2:p[1]}, style:{stroke:'#cfcfcf',lineWidth:1}},
        {type:'polyline', shape:{points:[b1,p,b2]}, style:{stroke:'#cfcfcf',lineWidth:1,fill:null}}
      ]};
    }};
}
function labelSeries(gi, pos, names, blueList, rich, offsets){
  return {type:'scatter', xAxisIndex:gi, yAxisIndex:gi, symbolSize:1, silent:true, z:6, clip:false,
    itemStyle:{color:'rgba(0,0,0,0)'},
    data: pos.map((p,i)=>({value:p, name:names[i], label: offsets ? {offset:offsets[i]} : undefined})),
    label:{show:true, position:'inside', formatter: p => rt(p.name, blueList.includes(p.name)), rich: rich}};
}

// dendrogram layout
const leafX = {}; dendroLeaves.forEach((n,i)=>{ leafX[n]=i+1; });
const nodeX = [], segs = [], leafBottom = {};
dendroMerge.forEach((m,i)=>{
  const h = dendroHeight[i]; const xsChild = [];
  m.forEach(c=>{
    let x, y0;
    if (typeof c === 'string'){ x = leafX[c]; y0 = h - dendroHang; leafBottom[c] = y0; }
    else { x = nodeX[c-1]; y0 = dendroHeight[c-1]; }
    xsChild.push(x); segs.push([x, y0, x, h]);
  });
  segs.push([xsChild[0], h, xsChild[1], h]);
  nodeX.push((xsChild[0]+xsChild[1])/2);
});

// box series
function boxSeries(ci, stats, color){
  const off = (ci-2)*0.25;
  return {type:'custom', xAxisIndex:4, yAxisIndex:4, z:4, silent:true,
    data: stats.map((s,i)=>[i+off, s[0], s[1], s[2], s[3], s[4]]),
    encode:{x:0, y:[1,5]},
    renderItem(params, api){
      const x=api.value(0);
      const lo=api.coord([x,api.value(1)]), q1=api.coord([x,api.value(2)]), md=api.coord([x,api.value(3)]), q3=api.coord([x,api.value(4)]), hi=api.coord([x,api.value(5)]);
      const hw=api.size([0.235,0])[0]/2; const cx=Math.round(lo[0])+0.5;
      return {type:'group', children:[
        {type:'line', shape:{x1:cx,y1:lo[1],x2:cx,y2:q1[1]}, style:{stroke:'#666',lineWidth:1}},
        {type:'line', shape:{x1:cx,y1:q3[1],x2:cx,y2:hi[1]}, style:{stroke:'#666',lineWidth:1}},
        {type:'rect', shape:{x:cx-hw, y:q3[1], width:2*hw, height:q1[1]-q3[1]}, style:{fill:color, stroke:'#555', lineWidth:1}},
        {type:'line', shape:{x1:cx-hw,y1:md[1],x2:cx+hw,y2:md[1]}, style:{stroke:'#222',lineWidth:2}}
      ]};
    }};
}
function outlierSeries(ci, outl){
  const off=(ci-2)*0.25; const data=[];
  outl.forEach((arr,i)=>arr.forEach(v=>data.push([i+off, v])));
  return {type:'scatter', xAxisIndex:4, yAxisIndex:4, z:3, silent:true, symbol:'emptyCircle', symbolSize:4,
    itemStyle:{color:'#555', borderColor:'#555', borderWidth:0.8}, data};
}
// decade ticks and log minor ticks for panel e
const eDecades = [-4,-3,-2,-1,0,1,2,3,4,5];
const eMinor = [];
for (let k=-4;k<=5;k++){ for (let m=2;m<=9;m++){ const v=k+Math.log10(m); if (v<=5.11) eMinor.push(v); } }
const minorTickSeries = {type:'custom', xAxisIndex:4, yAxisIndex:4, silent:true, z:2, data:[[0,0]],
  renderItem(params, api){ const cs=params.coordSys; return {type:'group', children: eMinor.map(v=>{ const y=Math.round(api.coord([0,v])[1])+0.5;
    return {type:'line', shape:{x1:cs.x, y1:y, x2:cs.x+3.5, y2:y}, style:{stroke:'#777', lineWidth:1}}; })}; }};

const axLabel = {fontSize:12, color:'#333', fontFamily:FONT};
function ggX(gi,min,max,ticks,fmt){ return {type:'value',gridIndex:gi,min,max,splitLine:{show:false},axisLine:{show:false,onZero:false},
  axisTick:{show:true,customValues:ticks,length:3,lineStyle:{color:'#444'}},
  axisLabel:Object.assign({show:true,customValues:ticks,formatter:fmt,margin:5},axLabel)}; }
function ggY(gi,min,max,ticks,fmt){ return {type:'value',gridIndex:gi,min,max,splitLine:{show:false},axisLine:{show:false,onZero:false},
  axisTick:{show:true,customValues:ticks,length:3,lineStyle:{color:'#444'}},
  axisLabel:Object.assign({show:true,customValues:ticks,formatter:fmt,margin:4},axLabel)}; }

const xAxis = [
  ggX(0,-0.4447,0.463,tickAx,fmtNum(2)),
  ggX(1,-0.751,0.291,tickBx,fmtNum(2)),
  ggX(2,-7.96,18.62,tickCx,fmtNum(0)),
  {type:'value',gridIndex:3,min:0.2,max:18.54,show:false,axisLine:{onZero:false}},
  {type:'value',gridIndex:4,min:-0.69,max:17.52,splitLine:{show:false},axisLine:{show:false,onZero:false},axisTick:{show:false},
   axisLabel:{show:true,customValues:elements.map((e,i)=>i),formatter:v=>rt(elements[Math.round(v)],false),rich:RICH_E,margin:2}}
];
const yAxis = [
  ggY(0,-0.756,0.3097,tickAy,fmtNum(2)),
  ggY(1,-0.445,0.816,tickBy,fmtNum(2)),
  ggY(2,-6.84,8.34,tickCy,fmtNum(0)),
  {type:'value',gridIndex:3,min:0,max:13.77,splitLine:{show:false},
   axisLine:{show:true,onZero:false,lineStyle:{color:'#555',width:1}},
   axisTick:{show:true,customValues:tickD,length:6,lineStyle:{color:'#555'}},
   axisLabel:{show:true,customValues:tickD,rotate:90,fontSize:13,color:'#333',fontFamily:FONT,margin:9}},
  {type:'value',gridIndex:4,min:-4,max:5.11,splitLine:{show:false},axisLine:{show:false,onZero:false},
   axisTick:{show:true,inside:true,customValues:eDecades,length:7,lineStyle:{color:'#666'}},
   axisLabel:{show:true,customValues:eTickVals,formatter:v=>eTickLabels[eTickVals.indexOf(Math.round(v))],fontSize:16,color:'#222',fontFamily:FONT,margin:3}}
];

const series = [
  gridLineSeries(0, gridAx, gridAy, '#ececec'),
  arrowSeries(0, pc1, pc2),
  labelSeries(0, labA, vars, blueVars, RICH_AB),
  gridLineSeries(1, gridBx, gridBy, '#ececec'),
  arrowSeries(1, pc2, pc3),
  labelSeries(1, labB, vars, [], RICH_AB),
  gridLineSeries(2, gridCx, gridCy, '#ececec'),
  {type:'scatter', xAxisIndex:2, yAxisIndex:2, symbolSize:5.4, silent:true, z:3, itemStyle:{color:C1}, data:pairs(scores1)},
  {type:'scatter', xAxisIndex:2, yAxisIndex:2, symbolSize:5.4, silent:true, z:3, itemStyle:{color:C2}, data:pairs(scores2)},
  {type:'scatter', xAxisIndex:2, yAxisIndex:2, symbolSize:4.8, silent:true, z:3, itemStyle:{color:C3}, data:pairs(scores3)},
  {type:'scatter', xAxisIndex:2, yAxisIndex:2, symbolSize:25, silent:true, z:5,
   itemStyle:{color:'#fff', borderColor:'#222', borderWidth:1.2},
   data: clusterLabelPos.map((p,i)=>({value:p, name:clusterNames[i]})),
   label:{show:true, position:'inside', formatter:p=>p.name, fontSize:16, fontWeight:'bold', color:'#111', fontFamily:FONT}},
  {type:'custom', xAxisIndex:3, yAxisIndex:3, silent:true, z:3, clip:false, data:segs, encode:{x:0,y:1},
   renderItem(params, api){ const a=api.coord([api.value(0),api.value(1)]), b=api.coord([api.value(2),api.value(3)]);
     return {type:'line', shape:{x1:a[0],y1:a[1],x2:b[0],y2:b[1]}, style:{stroke:'#666',lineWidth:1}}; }},
  labelSeries(3, dendroLeaves.map(n=>[leafX[n], leafBottom[n]]), dendroLeaves, blueVars, RICH_D, dendroLabelDx.map(dx=>[dx,14])),
  minorTickSeries,
  outlierSeries(1, outl1), outlierSeries(2, outl2), outlierSeries(3, outl3),
  boxSeries(1, box1, BOX1), boxSeries(2, box2, BOX2), boxSeries(3, box3, BOX3)
];

function T(text, x, y, size, opts){ return Object.assign({type:'text', x, y, z:100, silent:true,
  style:{text, font: size+'px '+FONT, fill:'#111', align:'center', verticalAlign:'middle'}}, opts||{}); }
function letterBox(ch, x, y, w, h){ return [
  {type:'rect', z:100, silent:true, shape:{x:x+0.5,y:y+0.5,width:w,height:h}, style:{fill:'#fff', stroke:'#555', lineWidth:1}},
  T(ch, x+w/2+0.5, y+h/2, 25)]; }
function L(x1,y1,x2,y2,stroke,lw,dash){ return {type:'line', z:100, silent:true, shape:{x1,y1,x2,y2}, style:{stroke, lineWidth:lw||1, lineDash:dash||null}}; }
function miniBox(cx, color){ return [
  L(cx,905,cx,916,'#666'), L(cx,936,cx,945,'#666'),
  {type:'rect', z:100, silent:true, shape:{x:cx-8.5,y:916,width:17,height:20}, style:{fill:color, stroke:'#555', lineWidth:1}},
  L(cx-8.5,926,cx+8.5,926,'#222',2)]; }

const graphic = [].concat(
  letterBox('a',67,16,33,34), letterBox('b',567,16,35,34), letterBox('c',67,446,33,34),
  letterBox('d',561,447,33,34), letterBox('e',68,879,34,34),
  [T('PC2 13%', 22, 204, 17, {rotation:Math.PI/2}),
   T('PC3 10%', 528, 200, 17, {rotation:Math.PI/2}),
   T('PC2 13%', 813, 453, 17),
   T('PC2 13%', 22, 621, 17, {rotation:Math.PI/2}),
   T('PC1 31%', 278, 867, 17),
   T('concentration, ppm', 23, 1080, 18, {rotation:Math.PI/2}),
   {type:'text', x:505, y:472, z:100, silent:true, style:{text:'N = 4,926', font:'19px '+FONT, fill:'#111', align:'right', verticalAlign:'middle'}},
   T('Clusters', 690, 895, 18), T('1', 745, 893, 16), T('2', 783, 893, 16), T('3', 816, 893, 16)],
  miniBox(745, BOX1), miniBox(783, BOX2), miniBox(816, BOX3),
  [{type:'rect', z:100, silent:true, shape:{x:849.5,y:880.5,width:164,height:71}, style:{fill:'#fff', stroke:'#444', lineWidth:1}},
   T('min', 887, 889, 13), T('median', 940, 889, 13), T('max', 992, 889, 13),
   T('1st quartile', 887, 944, 13), T('3rd quartile', 973, 944, 13),
   L(887,917,907,917,'#777'), L(953,917,994,917,'#777'),
   {type:'rect', z:100, silent:true, shape:{x:907,y:909,width:46,height:18}, style:{fill:'#fff', stroke:'#555', lineWidth:1}},
   L(940,909,940,927,'#111',3),
   L(887,917,887,903,'#777',1,[2,2]), L(994,917,994,903,'#777',1,[2,2]), L(940,909,940,903,'#777',1,[2,2]),
   L(907,927,907,935,'#777',1,[2,2]), L(953,927,953,935,'#777',1,[2,2])]
);

const chart = echarts.init(document.getElementById('c'), null, {renderer:'canvas', width:1032, height:1311});
chart.setOption({
  animation:false, backgroundColor:'#fff',
  textStyle:{fontFamily:FONT},
  grid:[
    {left:67, top:16, width:443, height:406, show:true, borderColor:'#7a7a7a', borderWidth:1, backgroundColor:'#fff', outerBoundsMode:'none'},
    {left:567, top:16, width:473, height:405, show:true, borderColor:'#7a7a7a', borderWidth:1, backgroundColor:'#fff', outerBoundsMode:'none'},
    {left:67, top:446, width:444, height:406, show:true, borderColor:'#7a7a7a', borderWidth:1, backgroundColor:'#fff', outerBoundsMode:'none'},
    {left:554, top:479, width:478, height:311, outerBoundsMode:'none'},
    {left:68, top:879, width:946, height:410, show:true, borderColor:'#7a7a7a', borderWidth:1, backgroundColor:'#fff', outerBoundsMode:'none'}
  ],
  xAxis, yAxis, series, graphic
});
</script></body></html>
